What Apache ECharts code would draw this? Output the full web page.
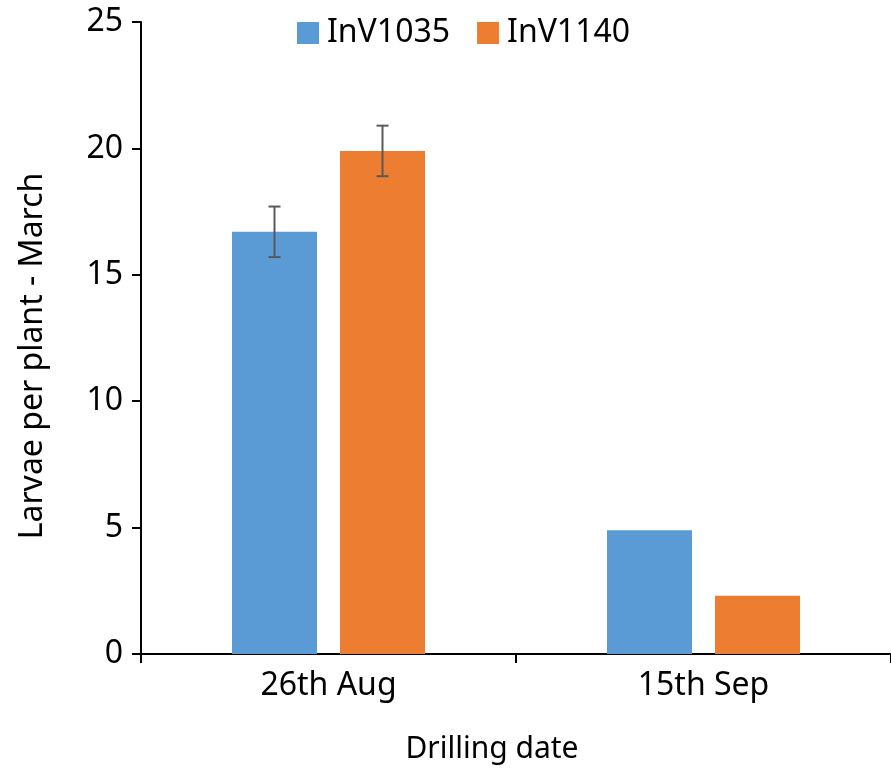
<!DOCTYPE html>
<html>
<head>
<meta charset="utf-8">
<script src="https://cdn.jsdelivr.net/npm/echarts@6/dist/echarts.min.js"></script>
<style>
  html, body { margin: 0; padding: 0; background: #fff; }
  #main { width: 891px; height: 773px; }
</style>
</head>
<body>
<div id="main"></div>
<script>
// data
var categories = ['26th Aug', '15th Sep'];
var inv1035 = [16.7, 4.9];
var inv1140 = [19.9, 2.3];
var err1035 = [1.0, 0];
var err1140 = [1.0, 0];
var yTicks = [0, 5, 10, 15, 20, 25];

var FONT = '"Noto Sans", sans-serif';
var BAR_W = 85;
var GAP = 23;

function errorSeries(values, errs, side) {
    var pts = values.map(function (v, i) { return [i, v, errs[i]]; });
    return {
        type: 'custom',
        z: 5,
        silent: true,
        data: pts,
        encode: { x: 0, y: 1 },
        renderItem: function (params, api) {
            var e = api.value(2);
            if (!e) return null;
            var off = side * (BAR_W + GAP) / 2;
            var hi = api.coord([api.value(0), api.value(1) + e]);
            var lo = api.coord([api.value(0), api.value(1) - e]);
            var x = hi[0] + off;
            var cap = 6;
            var st = { stroke: '#595959', lineWidth: 2 };
            return {
                type: 'group',
                children: [
                    { type: 'line', shape: { x1: x, y1: hi[1], x2: x, y2: lo[1] }, style: st },
                    { type: 'line', shape: { x1: x - cap, y1: hi[1], x2: x + cap, y2: hi[1] }, style: st },
                    { type: 'line', shape: { x1: x - cap, y1: lo[1], x2: x + cap, y2: lo[1] }, style: st }
                ]
            };
        }
    };
}

var chart = echarts.init(document.getElementById('main'));
chart.setOption({
    animation: false,
    textStyle: { fontFamily: FONT },
    legend: {
        top: 12,
        left: 292,
        icon: 'rect',
        itemWidth: 22,
        itemHeight: 22,
        itemGap: 27,
        textStyle: { fontSize: 32, color: '#000', fontFamily: FONT, padding: [0, 0, 0, 3] },
        data: ['InV1035', 'InV1140']
    },
    grid: { left: 141, right: 0, top: 22, bottom: 119, containLabel: false, outerBoundsMode: 'none' },
    xAxis: {
        type: 'category',
        data: categories,
        name: 'Drilling date',
        nameLocation: 'middle',
        nameGap: 80,
        nameTextStyle: { fontSize: 30, color: '#000', fontFamily: FONT, padding: [0, 48, 0, 0] },
        axisLine: { lineStyle: { color: '#000', width: 2 } },
        axisTick: { show: true, length: 9, lineStyle: { color: '#000', width: 2 } },
        axisLabel: { fontSize: 32, color: '#000', margin: 16, fontFamily: FONT }
    },
    yAxis: {
        type: 'value',
        min: yTicks[0],
        max: yTicks[yTicks.length - 1],
        interval: 5,
        name: 'Larvae per plant - March',
        nameLocation: 'middle',
        nameGap: 92,
        nameRotate: 90,
        nameTextStyle: { fontSize: 32, color: '#000', fontFamily: FONT, padding: [0, 36, 0, 0] },
        axisLine: { show: true, lineStyle: { color: '#000', width: 2 } },
        axisTick: { show: true, length: 9, lineStyle: { color: '#000', width: 2 } },
        splitLine: { show: false },
        axisLabel: { fontSize: 32, color: '#000', margin: 18, fontFamily: FONT }
    },
    series: [
        {
            name: 'InV1035',
            type: 'bar',
            data: inv1035,
            barWidth: BAR_W,
            barGap: (GAP / BAR_W * 100) + '%',
            itemStyle: { color: '#5B9BD5' }
        },
        {
            name: 'InV1140',
            type: 'bar',
            data: inv1140,
            barWidth: BAR_W,
            barGap: (GAP / BAR_W * 100) + '%',
            itemStyle: { color: '#ED7D31' }
        },
        errorSeries(inv1035, err1035, -1),
        errorSeries(inv1140, err1140, 1)
    ]
});
</script>
</body>
</html>
